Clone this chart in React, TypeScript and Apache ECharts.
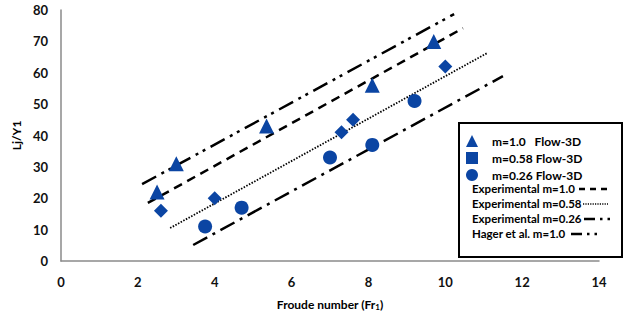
import React, { useEffect, useRef } from "react";
import * as echarts from "echarts";

const xTicks = [0, 2, 4, 6, 8, 10, 12, 14];
const yTicks = [0, 10, 20, 30, 40, 50, 60, 70, 80];

const tri10 = [[2.5, 22], [3.0, 31], [5.35, 43], [8.1, 56], [9.7, 70]];
const dia058 = [[2.6, 16], [4.0, 20], [7.3, 41], [7.6, 45], [10.0, 62]];
const cir026 = [[3.75, 11], [4.7, 17], [7.0, 33], [8.1, 37], [9.2, 51]];

const expM10 = [[2.26, 18.5], [10.46, 74.2]];
const expM058 = [[2.84, 10.5], [11.08, 66.2]];
const expM026 = [[3.44, 5.1], [11.5, 58.9]];
const hagerM10 = [[2.11, 24.5], [10.23, 78.7]];

const names = {
  t: "m=1.0   Flow-3D",
  d: "m=0.58 Flow-3D",
  c: "m=0.26 Flow-3D",
  e1: "Experimental m=1.0",
  e2: "Experimental m=0.58",
  e3: "Experimental m=0.26",
  h: "Hager et al. m=1.0",
};

const BLUE = "#0b45a3";
const FONT = "Lato, 'Open Sans', sans-serif";

const dashM10 = [9, 6];
const dashM058 = [1.5, 1.5];
const dashM026 = [16, 6, 3, 6];
const dashHager = [16, 6, 3, 5, 3, 6];

export default function App() {
  const ref = useRef<HTMLDivElement>(null);
  useEffect(() => {
    const chart = echarts.init(ref.current!, null, { renderer: "svg" });
    const lineSeries = (name: string, data: number[][], type: any, width: number) => ({
      name,
      type: "line",
      data,
      showSymbol: false,
      symbol: "none",
      lineStyle: { color: "#000", width, type },
      itemStyle: { color: "#000" },
      z: 2,
    });
    const legendRows = [
      { text: names.e1, y: 188, x1: 579, x2: 607, dash: [6, 5], w: 2.5 },
      { text: names.e2, y: 203, x1: 583, x2: 608, dash: [1.2, 1.2], w: 1.5 },
      { text: names.e3, y: 218, x1: 584, x2: 611, dash: [11, 5, 2.5, 5, 2.5, 5], w: 2.5 },
      { text: names.h, y: 233, x1: 571, x2: 597, dash: [11, 5, 2.5, 5, 2.5, 5], w: 2.5 },
    ];
    const legendGraphics: any[] = [];
    legendRows.forEach((r) => {
      legendGraphics.push({
        type: "text",
        x: 472,
        y: r.y,
        style: {
          text: r.text,
          fontFamily: FONT,
          fontWeight: "bold",
          fontSize: 11.5,
          fill: "#000",
          verticalAlign: "middle",
          align: "left",
        },
        silent: true,
      });
      legendGraphics.push({
        type: "line",
        shape: { x1: r.x1, y1: r.y + 1, x2: r.x2, y2: r.y + 1 },
        style: { stroke: "#000", lineWidth: r.w, lineDash: r.dash },
        silent: true,
      });
    });
    chart.setOption({
      animation: false,
      grid: { left: 61, right: 25, top: 10, bottom: 56 },
      xAxis: {
        type: "value",
        min: 0,
        max: 14,
        interval: 2,
        name: "Froude number (Fr{sub|1})",
        nameLocation: "middle",
        nameGap: 36,
        nameTextStyle: {
          fontFamily: FONT,
          fontWeight: "bold",
          fontSize: 12,
          color: "#000",
          rich: { sub: { fontSize: 8, fontWeight: "bold", verticalAlign: "bottom", padding: [6, 0, 0, 0], fontFamily: FONT } },
        },
        axisLine: { lineStyle: { color: "#8a8a8a", width: 1.5 } },
        axisTick: { show: false },
        splitLine: { show: false },
        axisLabel: { fontFamily: FONT, fontWeight: "bold", fontSize: 13, color: "#111", margin: 14 },
      },
      yAxis: {
        type: "value",
        min: 0,
        max: 80,
        interval: 10,
        name: "Lj/Y1",
        nameLocation: "middle",
        nameRotate: 90,
        nameGap: 36,
        nameTextStyle: { fontFamily: FONT, fontWeight: "bold", fontSize: 12, color: "#000" },
        axisLine: { show: true, lineStyle: { color: "#8a8a8a", width: 1.5 } },
        axisTick: { show: false },
        splitLine: { show: false },
        axisLabel: { fontFamily: FONT, fontWeight: "bold", fontSize: 13, color: "#111", margin: 13 },
      },
      legend: [
        {
          orient: "vertical",
          left: 461,
          top: 130,
          itemGap: 5,
          itemWidth: 12,
          itemHeight: 12,
          textStyle: { fontFamily: FONT, fontWeight: "bold", fontSize: 12, color: "#000", padding: [0, 0, 0, 9] },
          data: [
            { name: names.t, icon: "triangle" },
            { name: names.d, icon: "rect" },
            { name: names.c, icon: "circle" },
          ],
        },
      ],
      graphic: [
        {
          type: "rect",
          shape: { x: 459, y: 123, width: 163, height: 134 },
          style: { fill: "none", stroke: "#000", lineWidth: 2 },
          z: 0,
          silent: true,
        },
        ...legendGraphics,
      ],
      series: [
        lineSeries(names.e1, expM10, dashM10, 2.5),
        lineSeries(names.e2, expM058, dashM058, 1.8),
        lineSeries(names.e3, expM026, dashM026, 2.5),
        lineSeries(names.h, hagerM10, dashHager, 2.5),
        {
          name: names.t,
          type: "scatter",
          data: tri10,
          symbol: "triangle",
          symbolSize: 15,
          itemStyle: { color: BLUE, opacity: 1 },
          z: 3,
        },
        {
          name: names.d,
          type: "scatter",
          data: dia058,
          symbol: "diamond",
          symbolSize: 14,
          itemStyle: { color: BLUE, opacity: 1 },
          z: 3,
        },
        {
          name: names.c,
          type: "scatter",
          data: cir026,
          symbol: "circle",
          symbolSize: 14,
          itemStyle: { color: BLUE, opacity: 1 },
          z: 3,
        },
      ],
    });
    return () => chart.dispose();
  }, []);
  return <div ref={ref} style={{ width: 624, height: 317, position: "absolute", left: 0, top: 0 }} />;
}
